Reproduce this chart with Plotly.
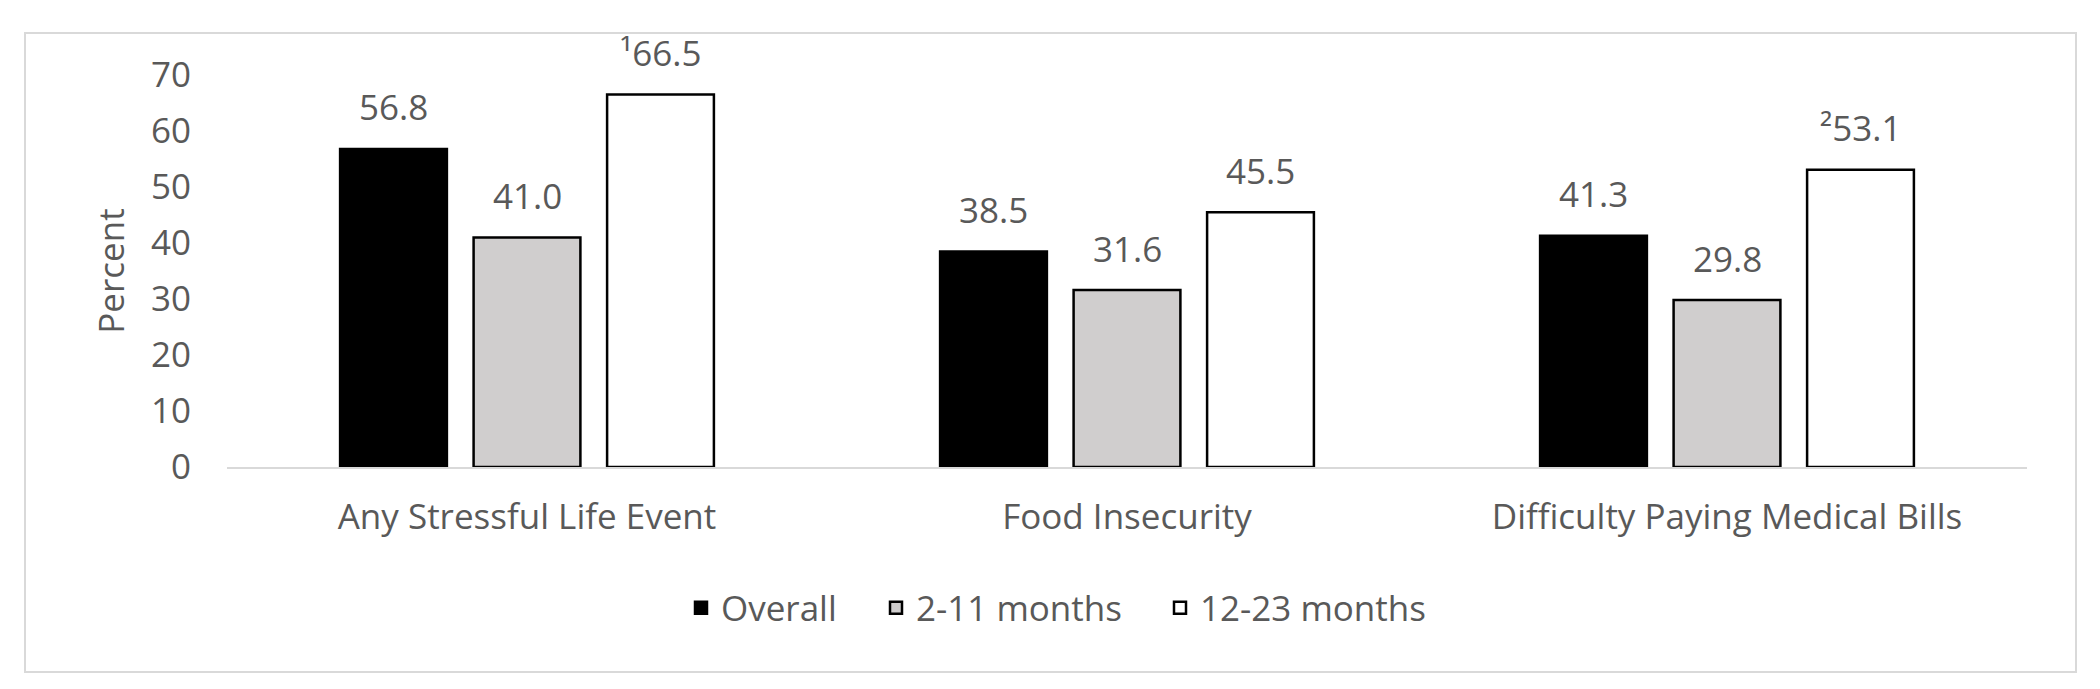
import plotly.graph_objects as go

categories = ["Any Stressful Life Event", "Food Insecurity", "Difficulty Paying Medical Bills"]
series_names = ["Overall", "2-11 months", "12-23 months"]
overall = [56.8, 38.5, 41.3]
months_2_11 = [41.0, 31.6, 29.8]
months_12_23 = [66.5, 45.5, 53.1]
labels_overall = ["56.8", "38.5", "41.3"]
labels_2_11 = ["41.0", "31.6", "29.8"]
labels_12_23 = ["\u00b966.5", "45.5", "\u00b253.1"]
y_ticks = [0, 10, 20, 30, 40, 50, 60, 70]

values = [overall, months_2_11, months_12_23]
labels = [labels_overall, labels_2_11, labels_12_23]
fills = ["#000000", "#d0cece", "#ffffff"]
legend_ids = ["legend", "legend2", "legend3"]
legend_left_px = [681, 876, 1160]

FONT = "Open Sans"
TXT = "#595959"
FS = 35
W, H = 2100, 689
ML, MR, MT, MB = 227, 73, 75, 222
BARGAP = 0.3325

pw = W - ML - MR
ph = H - MT - MB

fig = go.Figure()
for name, vals, fill, lg in zip(series_names, values, fills, legend_ids):
    fig.add_trace(go.Bar(
        x=categories, y=vals, name=name, legend=lg,
        marker=dict(color=fill, line=dict(color="#000000", width=2.5)),
    ))

# data labels, positioned from the data through the axes
annotations = []
n = len(series_names)
slot = (1 - BARGAP) / n
for j, labs in enumerate(labels):
    for i, (v, t) in enumerate(zip(values[j], labs)):
        annotations.append(dict(
            x=i + (j - (n - 1) / 2) * slot, y=v, xref="x", yref="y",
            text=t, showarrow=False, yanchor="middle", yshift=42,
            font=dict(family=FONT, size=FS, color=TXT),
        ))

# outer chart border
border = dict(type="rect", xref="paper", yref="paper",
              x0=(25 - ML) / pw, x1=(2076 - ML) / pw,
              y0=(H - MB - 672) / ph, y1=(H - MB - 33) / ph,
              line=dict(color="#d9d9d9", width=2), fillcolor="rgba(0,0,0,0)", layer="below")

legend_common = dict(orientation="h", xanchor="left",
                     y=(H - MB - 608) / ph, yanchor="middle",
                     font=dict(family=FONT, size=FS, color=TXT),
                     itemwidth=30, bgcolor="rgba(0,0,0,0)")
legends = {}
for lg, lx in zip(legend_ids, legend_left_px):
    legends[lg] = dict(legend_common, x=(lx - ML) / pw)

fig.update_layout(
    width=W, height=H,
    margin=dict(l=ML, r=MR, t=MT, b=MB, pad=0),
    paper_bgcolor="#ffffff", plot_bgcolor="#ffffff",
    barmode="group", bargap=BARGAP, bargroupgap=0.2,
    font=dict(family=FONT, size=FS, color=TXT),
    showlegend=True,
    annotations=annotations,
    shapes=[border],
    **legends,
)
fig.update_xaxes(
    type="category", showgrid=False, showline=True, linecolor="#d9d9d9", linewidth=2,
    ticks="outside", ticklen=18, tickcolor="rgba(0,0,0,0)",
    tickfont=dict(family=FONT, size=FS, color=TXT), automargin=False,
)
fig.update_yaxes(
    range=[0, 70], tickvals=y_ticks, showgrid=False, zeroline=False, showline=False,
    ticks="outside", ticklen=28, tickcolor="rgba(0,0,0,0)",
    tickfont=dict(family=FONT, size=FS, color=TXT), automargin=False,
    title=dict(text="Percent", font=dict(family=FONT, size=FS, color=TXT), standoff=15),
)

fig.write_html("out.html", config={"displayModeBar": False},
               post_script="document.body.style.margin='0';")
